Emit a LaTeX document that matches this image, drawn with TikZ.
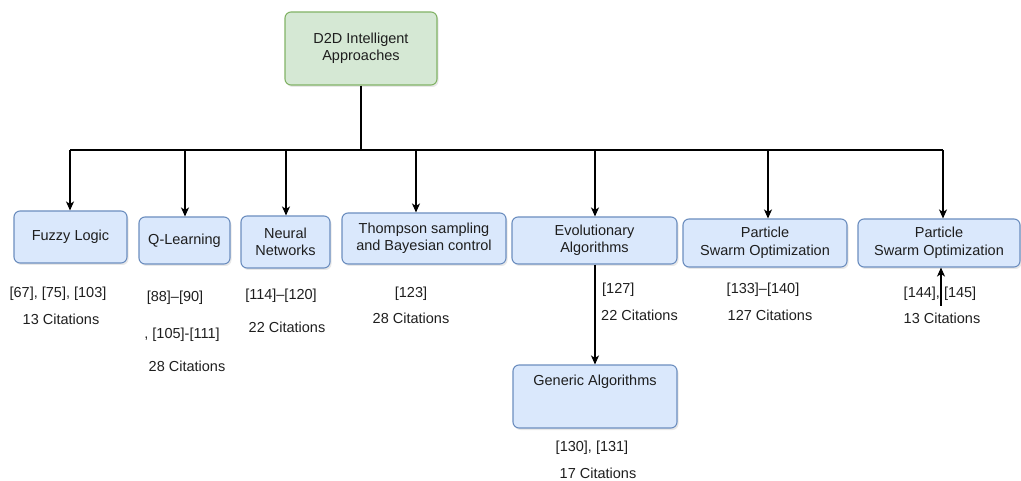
\documentclass[tikz,border=0pt]{standalone}
\usepackage{fontspec}
\setmainfont{Liberation Sans}
\usetikzlibrary{arrows.meta,shadows}
\definecolor{boxfill}{HTML}{DAE8FC}
\definecolor{boxline}{HTML}{6C8EBF}
\definecolor{rootfill}{HTML}{D5E8D4}
\definecolor{rootline}{HTML}{82B366}
\definecolor{ink}{HTML}{1E1E1E}

\begin{document}
\begin{tikzpicture}[x=1pt,y=-1pt,
  font=\fontsize{14.5}{17.5}\selectfont, text=ink,
  box/.style={draw=boxline, fill=boxfill, rounded corners=6pt, line width=1.1pt,
    align=center, inner sep=0pt,
    drop shadow={opacity=0.18, shadow xshift=1.5pt, shadow yshift=-2pt}},
  rootbox/.style={box, draw=rootline, fill=rootfill},
  cite/.style={inner sep=0pt},
  wire/.style={draw=black, line width=1.3pt},
  arr/.style={wire, -{Stealth[length=9pt,width=8pt,inset=2.5pt]}}]

\useasboundingbox (0,0) rectangle (1021,481);

% root
\node[rootbox, minimum width=152pt, minimum height=73pt] (root) at (361,48.5)
  {D2D Intelligent\\Approaches};

% categories
\node[box, minimum width=113pt, minimum height=52pt] (fuzzy) at (70.5,237) {Fuzzy Logic};
\node[box, minimum width=91pt,  minimum height=47pt] (qlearn) at (184.5,240.5) {Q-Learning};
\node[box, minimum width=89pt,  minimum height=52pt] (neural) at (285.5,242) {Neural\\Networks};
\node[box, minimum width=164pt, minimum height=51pt] (thomp) at (424,238.5) {Thompson sampling\\and Bayesian control};
\node[box, minimum width=165pt, minimum height=47pt] (evol) at (594.5,240.5) {Evolutionary\\Algorithms};
\node[box, minimum width=164pt, minimum height=48pt] (psoa) at (765,243) {Particle\\Swarm Optimization};
\node[box, minimum width=162pt, minimum height=48pt] (psob) at (939,243) {Particle\\Swarm Optimization};
\node[box, minimum width=164pt, minimum height=63pt,
  label={[anchor=north, yshift=-10pt, inner sep=0pt]north:Generic Algorithms}] (gen) at (595,396.5) {};

% references and citation counts
\node[cite] (f1) at (58,294) {[67], [75], [103]};
\node[cite] (f2) at (61,319) {13 Citations};
\node[cite] (q1) at (175,298) {[88]–[90]};
\node[cite] (q2) at (182,335) {, [105]-[111]};
\node[cite] (q3) at (187,366) {28 Citations};
\node[cite] (n1) at (281,296) {[114]–[120]};
\node[cite] (n2) at (287,327) {22 Citations};
\node[cite] (t1) at (411,294) {[123]};
\node[cite] (t2) at (411,318) {28 Citations};
\node[cite, anchor=west] (e1) at (602,290) {[127]};
\node[cite, anchor=west] (e2) at (601,315) {22 Citations};
\node[cite] (p1) at (763,290) {[133]–[140]};
\node[cite] (p2) at (770,315) {127 Citations};
\node[cite] (s1) at (940,294) {[144], [145]};
\node[cite] (s2) at (942,318) {13 Citations};
\node[cite] (g1) at (592,448) {[130], [131]};
\node[cite] (g2) at (598,473) {17 Citations};

% bus
\coordinate (trunk) at (361,150);
\coordinate (b1) at (70,150);
\coordinate (b2) at (185,150);
\coordinate (b3) at (286,150);
\coordinate (b4) at (416,150);
\coordinate (b5) at (595,150);
\coordinate (b6) at (768,150);
\coordinate (b7) at (943,150);

\draw[wire] (root.south) -- (trunk);
\draw[wire] (b1) -- (b7);
\draw[arr] (b1) -- (b1 |- fuzzy.north);
\draw[arr] (b2) -- (b2 |- qlearn.north);
\draw[arr] (b3) -- (b3 |- neural.north);
\draw[arr] (b4) -- (b4 |- thomp.north);
\draw[arr] (b5) -- (b5 |- evol.north);
\draw[arr] (b6) -- (b6 |- psoa.north);
\draw[arr] (b7) -- (b7 |- psob.north);

% sub-branch
\draw[arr] (evol.south -| gen.north) -- (gen.north);

% short arrow into the right-hand box
\coordinate (stub) at (941,306);
\draw[arr, line width=1.1pt] (stub) -- (stub |- psob.south);

\end{tikzpicture}
\end{document}
